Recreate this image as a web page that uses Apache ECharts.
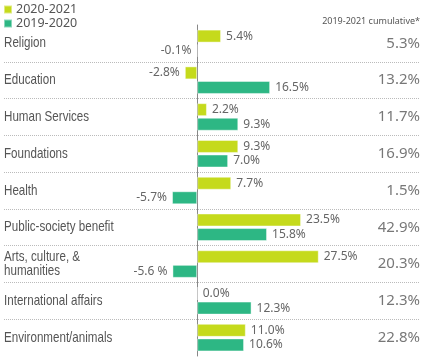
<!DOCTYPE html>
<html><head><meta charset="utf-8">
<script src="https://cdn.jsdelivr.net/npm/echarts@6/dist/echarts.min.js"></script>
<style>html,body{margin:0;padding:0;background:#fff}#c{width:431px;height:364px}</style>
</head><body><div id="c"></div>
<script>
var categories = ['Religion','Education','Human Services','Foundations','Health','Public-society benefit','Arts, culture, &\nhumanities','International affairs','Environment/animals'];
var v2021 = [5.4,-2.8,2.2,9.3,7.7,23.5,27.5,0.0,11.0];
var v2020 = [-0.1,16.5,9.3,7.0,-5.7,15.8,-5.6,12.3,10.6];
var v2020Text = [null,null,null,null,null,null,'-5.6 %',null,null];
var cumulative = [5.3,13.2,11.7,16.9,1.5,42.9,20.3,12.3,22.8];
var seriesNames = ['2020-2021','2019-2020'];
var colors = ['#c5da1c','#2db784'];

var LABEL_FONT = 'Noto Sans';
var CAT_FONT = '"Liberation Sans", Arial, sans-serif';

function barData(vals){
  return vals.map(function(v){
    return {value:v, label:{position: v < 0 ? 'left' : 'right'}};
  });
}
var chart = echarts.init(document.getElementById('c'), null, {renderer:'canvas'});
chart.setOption({
  animation:false,
  color: colors,
  title:{text:'2019-2021 cumulative*', right:6, top:12,
    textStyle:{fontSize:9, fontWeight:'normal', color:'#555', fontFamily:LABEL_FONT}},
  legend:{data:seriesNames, left:3, top:3, padding:0, orient:'vertical', icon:'rect', itemWidth:8, itemHeight:8, itemGap:1,
    textStyle:{fontSize:12.5, color:'#555', fontFamily:LABEL_FONT, padding:[0,0,0,-1]}},
  grid:[
    {left:153, top:25, width:221, height:331},
    {left:4, top:25, right:11, height:331}
  ],
  xAxis:[
    {gridIndex:0, type:'value', min:-10, max:40, show:false},
    {gridIndex:1, type:'value', min:0, max:1, show:false}
  ],
  yAxis:[
    {gridIndex:0, type:'category', data:categories, inverse:true,
      axisLine:{show:true, onZero:true, lineStyle:{color:'#888', width:1}},
      axisTick:{show:false}, axisLabel:{show:false}, splitLine:{show:false}},
    {gridIndex:1, type:'category', data:categories, inverse:true,
      axisLine:{show:false}, axisTick:{show:false}, axisLabel:{show:false},
      splitLine:{show:true, showMinLine:false, showMaxLine:false, lineStyle:{color:'#bbb', type:[1,1], width:1}}}
  ],
  series:[
    {name:seriesNames[0], type:'bar', xAxisIndex:0, yAxisIndex:0, data:barData(v2021), barWidth:13, barGap:'12%',
      itemStyle:{color:colors[0], borderColor:'rgba(255,255,255,0.45)', borderWidth:1},
      label:{show:true, distance:5, fontSize:12, color:'#666', fontFamily:LABEL_FONT,
        formatter:function(p){return p.value.toFixed(1)+'%';}}},
    {name:seriesNames[1], type:'bar', xAxisIndex:0, yAxisIndex:0, data:barData(v2020), barWidth:13, barGap:'12%',
      itemStyle:{color:colors[1], borderColor:'rgba(255,255,255,0.45)', borderWidth:1},
      label:{show:true, distance:5, fontSize:12, color:'#666', fontFamily:LABEL_FONT,
        formatter:function(p){return v2020Text[p.dataIndex] || (p.value.toFixed(1)+'%');}}},
    {name:'cumulative', type:'scatter', xAxisIndex:1, yAxisIndex:1, symbolSize:0,
      data:cumulative.map(function(v,i){return [1, categories[i], v];}),
      label:{show:true, position:'left', distance:0, fontSize:15, color:'#555', fontFamily:LABEL_FONT,
        formatter:function(p){return p.value[2].toFixed(1)+'%';}}, silent:true},
    {name:'categories', type:'custom', xAxisIndex:1, yAxisIndex:1, silent:true,
      data:categories.map(function(c,i){return [0, i];}),
      renderItem:function(params, api){
        var pt = api.coord([0, api.value(1)]);
        return {type:'text', x:pt[0], y:pt[1], scaleX:0.8,
          style:{text:categories[params.dataIndex], fill:'#555', font:'14.5px '+CAT_FONT,
            align:'left', verticalAlign:'middle', lineHeight:14}};
      }}
  ]
});
</script></body></html>
